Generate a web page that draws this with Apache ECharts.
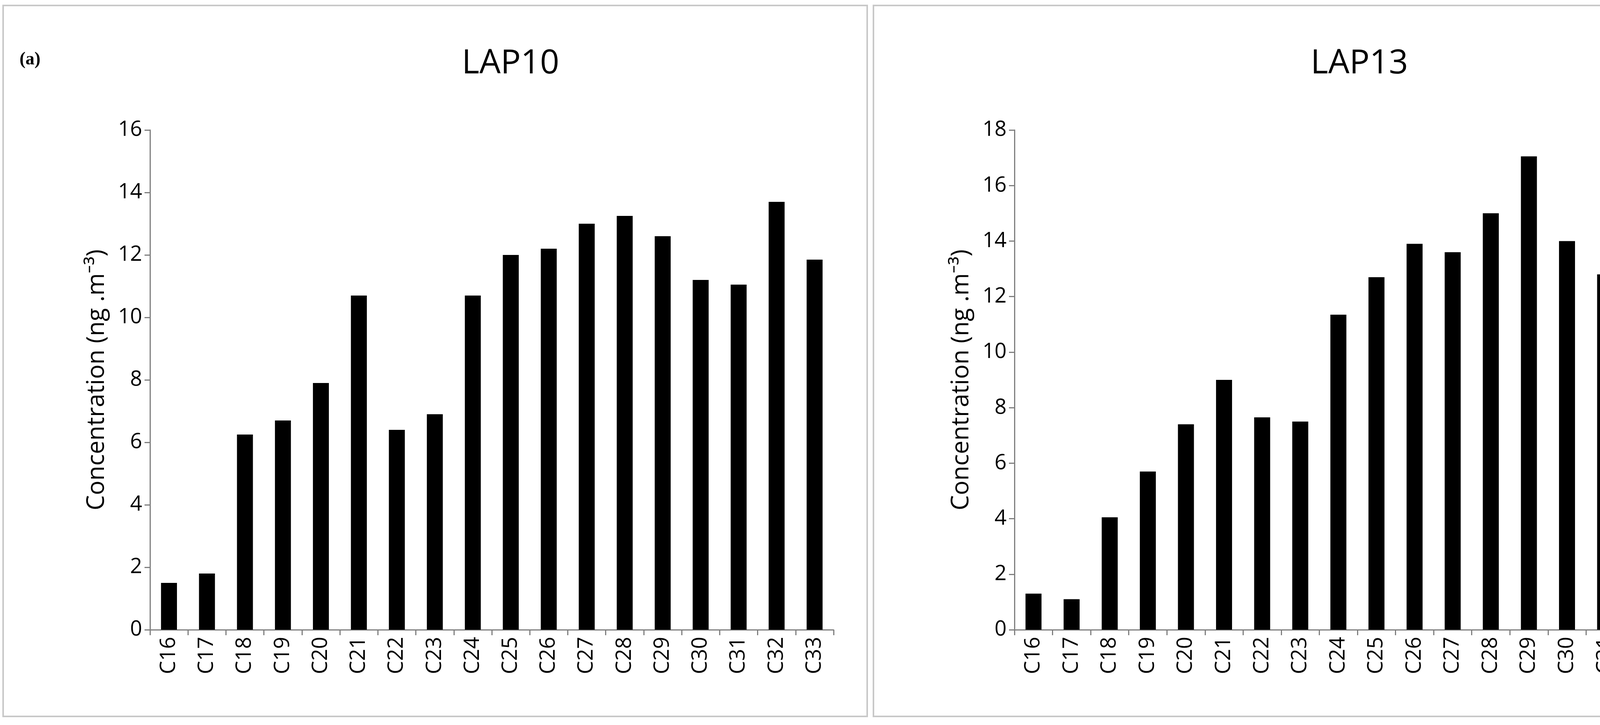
<!DOCTYPE html>
<html>
<head>
<meta charset="utf-8">
<script src="https://cdn.jsdelivr.net/npm/echarts@6/dist/echarts.min.js"></script>
<style>
  html, body { margin: 0; padding: 0; background: #fff; }
  #chart { width: 4461px; height: 1857px; }
</style>
</head>
<body>
<div id="chart"></div>
<script>
var categories = ['C16', 'C17', 'C18', 'C19', 'C20', 'C21', 'C22', 'C23', 'C24', 'C25', 'C26', 'C27', 'C28', 'C29', 'C30', 'C31', 'C32', 'C33'];
var lap10 = [1.5, 1.8, 6.25, 6.7, 7.9, 10.7, 6.4, 6.9, 10.7, 12.0, 12.2, 13.0, 13.25, 12.6, 11.2, 11.05, 13.7, 11.85];
var lap13 = [1.3, 1.1, 4.05, 5.7, 7.4, 9.0, 7.65, 7.5, 11.35, 12.7, 13.9, 13.6, 15.0, 17.05, 14.0, 12.8, 12.95, 14.95];
var titles = ['LAP10', 'LAP13'];
var yMax = [16, 18];

var font = 'Open Sans';

function xAxisFor(i) {
  return {
    type: 'category',
    gridIndex: i,
    data: categories,
    axisLine: { lineStyle: { color: '#7f7f7f', width: 3 } },
    axisTick: { show: true, length: 14, lineStyle: { color: '#7f7f7f', width: 3 } },
    axisLabel: { rotate: 90, color: '#000', fontSize: 54, fontFamily: font, margin: 18 }
  };
}

function yAxisFor(i) {
  return {
    type: 'value',
    gridIndex: i,
    min: 0,
    max: yMax[i],
    interval: 2,
    name: 'Concentration (ng .m⁻³)',
    nameLocation: 'middle',
    nameGap: 105,
    nameTextStyle: { color: '#000', fontSize: 62, fontFamily: font },
    splitLine: { show: false },
    axisLine: { show: true, lineStyle: { color: '#7f7f7f', width: 3 } },
    axisTick: { show: true, length: 14, lineStyle: { color: '#7f7f7f', width: 3 } },
    axisLabel: { color: '#000', fontSize: 54, fontFamily: font, margin: 20 }
  };
}

var chart = echarts.init(document.getElementById('chart'));
chart.setOption({
  animation: false,
  backgroundColor: '#fff',
  title: [
    { text: titles[0], left: 1302, top: 115, textAlign: 'center', textStyle: { fontSize: 86, fontWeight: 'normal', fontFamily: font, color: '#000' } },
    { text: titles[1], left: 3475, top: 115, textAlign: 'center', textStyle: { fontSize: 86, fontWeight: 'normal', fontFamily: font, color: '#000' } }
  ],
  graphic: [
    { type: 'rect', shape: { x: 8, y: 14, width: 2212, height: 1821 }, style: { fill: 'none', stroke: '#c8c8c8', lineWidth: 4 } },
    { type: 'rect', shape: { x: 2236, y: 14, width: 2211, height: 1821 }, style: { fill: 'none', stroke: '#c8c8c8', lineWidth: 4 } },
    { type: 'text', left: 50, top: 130, style: { text: '(a)', font: 'bold 46px "Liberation Serif"', fill: '#000' } }
  ],
  grid: [
    { left: 384, top: 333, width: 1750, height: 1280 },
    { left: 2597, top: 333, width: 1756, height: 1280 }
  ],
  xAxis: [xAxisFor(0), xAxisFor(1)],
  yAxis: [yAxisFor(0), yAxisFor(1)],
  series: [
    { type: 'bar', xAxisIndex: 0, yAxisIndex: 0, data: lap10, barWidth: '42%', itemStyle: { color: '#000' } },
    { type: 'bar', xAxisIndex: 1, yAxisIndex: 1, data: lap13, barWidth: '42%', itemStyle: { color: '#000' } }
  ]
});
</script>
</body>
</html>
